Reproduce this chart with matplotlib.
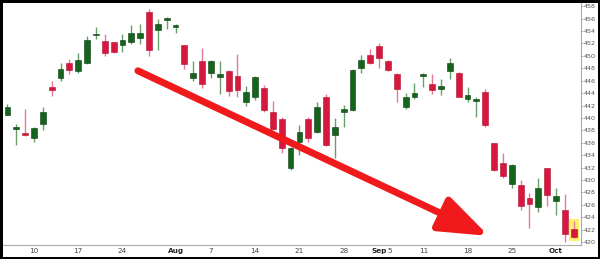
import matplotlib
matplotlib.use("Agg")
import matplotlib.pyplot as plt
from matplotlib.patches import Rectangle
import numpy as np
import pandas as pd

# daily OHLC, Jul 5 2017 .. Oct 4 2017
opens = [440.5, 438.2, 437.5, 436.8, 439.1, 445.0, 446.5, 448.9, 447.6, 448.9,
         453.3, 452.4, 452.2, 451.75, 452.2, 452.9, 457.0, 454.2, 455.8, 454.7,
         451.75, 446.5, 449.2, 447.3, 446.6, 447.6, 446.8, 442.6, 443.3, 444.9,
         441.0, 439.9, 432.0, 436.2, 439.9, 437.8, 443.3, 437.3, 440.9, 441.3,
         448.1, 450.1, 451.6, 449.2, 447.1, 441.7, 443.4, 446.8, 445.5, 444.7,
         447.6, 447.3, 443.1, 442.8, 444.2, 435.9, 432.7, 429.3, 429.2, 427.1,
         425.6, 431.9, 426.6, 425.1, 422.1]
highs = [442.3, 439.1, 441.5, 438.5, 441.7, 446.0, 448.9, 449.5, 450.5, 453.2,
         454.6, 453.5, 452.3, 453.5, 455.0, 455.1, 457.5, 455.9, 456.2, 455.1,
         451.8, 449.2, 451.3, 449.4, 449.2, 447.8, 450.3, 445.2, 446.8, 445.3,
         442.8, 440.1, 435.4, 438.8, 440.2, 442.5, 443.9, 440.0, 442.1, 447.9,
         450.1, 451.1, 452.1, 449.3, 447.2, 444.1, 445.7, 447.3, 447.1, 446.3,
         449.7, 447.4, 445.0, 443.4, 444.7, 436.0, 434.3, 432.6, 430.0, 427.9,
         430.4, 432.0, 428.8, 427.7, 423.4]
lows = [440.4, 435.7, 437.1, 436.2, 438.1, 443.6, 446.0, 447.1, 447.3, 448.7,
        452.7, 450.0, 450.4, 450.6, 451.9, 451.9, 450.0, 450.9, 454.3, 453.7,
        447.9, 446.0, 444.9, 446.5, 443.9, 443.6, 443.3, 442.0, 442.9, 440.9,
        438.0, 434.4, 431.7, 434.1, 436.2, 437.6, 435.5, 433.6, 438.5, 441.2,
        447.3, 448.7, 448.1, 447.6, 442.5, 441.5, 443.1, 445.0, 443.9, 443.7,
        446.3, 443.3, 442.6, 440.1, 438.6, 431.4, 430.3, 428.8, 425.2, 422.3,
        424.8, 425.8, 424.3, 420.0, 420.6]
closes = [441.8, 438.5, 437.2, 438.4, 441.0, 444.5, 447.9, 447.7, 449.3, 452.6,
          453.5, 450.5, 450.6, 452.55, 453.7, 453.7, 450.9, 455.1, 456.1, 454.85,
          448.7, 447.3, 445.5, 449.2, 447.1, 444.4, 444.5, 444.2, 446.6, 441.3,
          438.3, 435.2, 435.2, 437.8, 436.8, 441.7, 435.6, 438.6, 441.5, 447.7,
          449.3, 448.9, 449.7, 447.7, 444.7, 443.4, 444.1, 447.1, 444.5, 445.2,
          448.9, 443.4, 443.7, 442.9, 438.8, 431.6, 430.6, 432.5, 425.9, 426.1,
          428.7, 427.6, 427.4, 421.3, 420.8]

dates = pd.bdate_range("2017-07-05", "2017-10-04")
dates = dates[~dates.isin(pd.to_datetime(["2017-09-04"]))]

tick_dates = ["2017-07-10", "2017-07-17", "2017-07-24", "2017-08-01", "2017-08-07",
              "2017-08-14", "2017-08-21", "2017-08-28", "2017-09-01", "2017-09-05",
              "2017-09-11", "2017-09-18", "2017-09-25", "2017-10-02"]
tick_labels = ["10", "17", "24", "Aug", "7", "14", "21", "28", "Sep", "5",
               "11", "18", "25", "Oct"]

# trend arrow (bar index, price)
arrow_start = (14.75, 447.6)
arrow_end = (54.4, 421.0)

up_body, up_wick = "#15641c", "#6a9f6a"
dn_body, dn_wick = "#d6173e", "#e57993"

fig = plt.figure(figsize=(6, 2.59), dpi=100, edgecolor="black", linewidth=3.6)
ax = fig.add_axes([0.005, 0.054, 0.963, 0.934])

x = np.arange(len(opens))
bw = 0.66
for i in x:
    o, h, l, c = opens[i], highs[i], lows[i], closes[i]
    up = c >= o
    ax.vlines(i, l, h, color=up_wick if up else dn_wick, lw=1.0, zorder=2)
    bottom = min(o, c)
    height = max(abs(c - o), 0.3)
    ax.add_patch(Rectangle((i - bw / 2, bottom), bw, height,
                           facecolor=up_body if up else dn_body,
                           edgecolor="#0c3a10" if up else "#b0102f",
                           lw=0.4, zorder=3))

# highlight the latest bar
last = len(opens) - 1
ax.add_patch(Rectangle((last - 0.55, lows[last] - 0.4), 1.1,
                       highs[last] - lows[last] + 0.7,
                       facecolor="#fff06a", edgecolor="none", zorder=1))

ax.annotate("", xy=arrow_end, xytext=arrow_start,
            arrowprops=dict(arrowstyle="-|>,head_length=3.0,head_width=1.1",
                            mutation_scale=10, color="#f0191b", lw=5,
                            shrinkA=0, shrinkB=0), zorder=5)

ax.set_xlim(-0.5, 64.8)
ax.set_ylim(419.54, 458.5)

ax.yaxis.tick_right()
ax.set_yticks(np.arange(420, 459, 2))
ax.tick_params(axis="y", labelsize=4.6, labelcolor="#555555", color="#999999",
               length=1.5, width=0.6, pad=0.8)

pos = [dates.get_loc(pd.Timestamp(d)) for d in tick_dates]
ax.set_xticks(pos)
ax.set_xticklabels(tick_labels)
ax.tick_params(axis="x", labelsize=5.2, labelcolor="#444444", length=0, pad=2.5)
for lab in ax.get_xticklabels():
    if lab.get_text() in ("Aug", "Sep", "Oct"):
        lab.set_fontweight("bold")
        lab.set_color("#222222")
    if lab.get_text() == "5":
        lab.set_horizontalalignment("left")

for s in ("top", "left"):
    ax.spines[s].set_visible(False)
ax.spines["right"].set_color("#aaaaaa")
ax.spines["bottom"].set_color("#aaaaaa")
ax.spines["right"].set_linewidth(0.8)
ax.spines["bottom"].set_linewidth(0.8)

fig.savefig("out.png", dpi=100)
